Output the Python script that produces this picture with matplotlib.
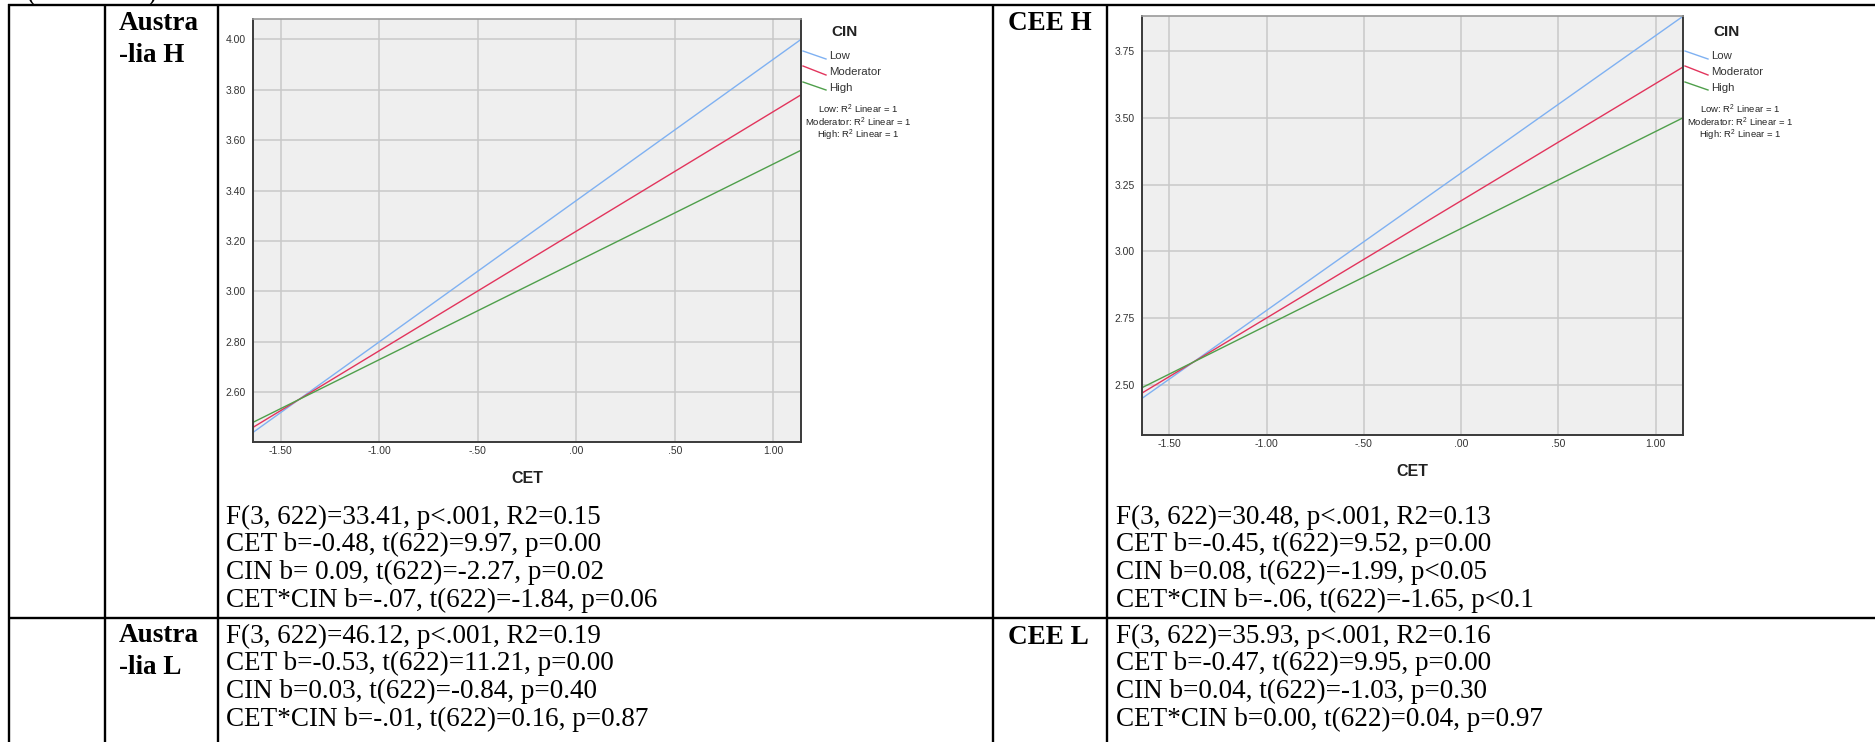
import matplotlib
matplotlib.use('Agg')
import matplotlib.pyplot as plt
from matplotlib.lines import Line2D

plt.rcParams['mathtext.fontset'] = 'custom'
plt.rcParams['mathtext.rm'] = 'Liberation Sans'
plt.rcParams['mathtext.it'] = 'Liberation Sans:italic'

W, H = 1875, 742

# ---------------- data ----------------
cet_range = [-1.64, 1.14]

aus_h_low = [2.44, 4.00]
aus_h_mod = [2.46, 3.78]
aus_h_high = [2.48, 3.56]

cee_h_low = [2.45, 3.88]
cee_h_mod = [2.47, 3.69]
cee_h_high = [2.49, 3.50]

group_labels = ["Low", "Moderator", "High"]
group_colors = ["#7fb1f2", "#e2345c", "#4f9f4b"]
r2_labels = ["Low: R$^2$ Linear = 1", "Moderator: R$^2$ Linear = 1", "High: R$^2$ Linear = 1"]

x_ticks = [-1.5, -1.0, -0.5, 0.0, 0.5, 1.0]
x_ticklabels = ["-1.50", "-1.00", "-.50", ".00", ".50", "1.00"]
aus_h_yticks = [2.60, 2.80, 3.00, 3.20, 3.40, 3.60, 3.80, 4.00]
aus_h_yticklabels = ["2.60", "2.80", "3.00", "3.20", "3.40", "3.60", "3.80", "4.00"]
cee_h_yticks = [2.50, 2.75, 3.00, 3.25, 3.50, 3.75]
cee_h_yticklabels = ["2.50", "2.75", "3.00", "3.25", "3.50", "3.75"]

row_labels = [["Austra", "-lia H"], ["CEE H"], ["Austra", "-lia L"], ["CEE L"]]

aus_h_stats = ["F(3, 622)=33.41, p<.001, R2=0.15",
               "CET b=-0.48, t(622)=9.97, p=0.00",
               "CIN b= 0.09, t(622)=-2.27, p=0.02",
               "CET*CIN b=-.07, t(622)=-1.84, p=0.06"]
cee_h_stats = ["F(3, 622)=30.48, p<.001, R2=0.13",
               "CET b=-0.45, t(622)=9.52, p=0.00",
               "CIN b=0.08, t(622)=-1.99, p<0.05",
               "CET*CIN b=-.06, t(622)=-1.65, p<0.1"]
aus_l_stats = ["F(3, 622)=46.12, p<.001, R2=0.19",
               "CET b=-0.53, t(622)=11.21, p=0.00",
               "CIN b=0.03, t(622)=-0.84, p=0.40",
               "CET*CIN b=-.01, t(622)=0.16, p=0.87"]
cee_l_stats = ["F(3, 622)=35.93, p<.001, R2=0.16",
               "CET b=-0.47, t(622)=9.95, p=0.00",
               "CIN b=0.04, t(622)=-1.03, p=0.30",
               "CET*CIN b=0.00, t(622)=0.04, p=0.97"]

# ---------------- figure ----------------
fig = plt.figure(figsize=(W / 100, H / 100), dpi=100)
fig.patch.set_facecolor('white')


def fx(x):
    return x / W


def fy(y):
    return 1 - y / H


def hline(y, x0, x1, lw=1.7, color='black'):
    fig.add_artist(Line2D([fx(x0), fx(x1)], [fy(y), fy(y)], transform=fig.transFigure,
                          color=color, lw=lw, solid_capstyle='butt'))


def vline(x, y0, y1, lw=1.7, color='black'):
    fig.add_artist(Line2D([fx(x), fx(x)], [fy(y0), fy(y1)], transform=fig.transFigure,
                          color=color, lw=lw, solid_capstyle='butt'))


# table grid
hline(5, 8, W)
hline(618, 8, W)
for xv in [9, 105, 218, 993, 1107]:
    vline(xv, 4, H)

serif = 'Liberation Serif'
TFS = 19.5

# partially cut-off caption above the table (only its lower edge shows)
fig.text(fx(27), fy(0.5), "(Continued)", family=serif, fontsize=TFS,
         ha='left', va='baseline', color='black')


# row labels
def label(lines, x, y0, dy=32):
    for i, s in enumerate(lines):
        fig.text(fx(x), fy(y0 + i * dy), s, family=serif, fontsize=TFS, weight='bold',
                 ha='left', va='center')


label(row_labels[0], 119, 23)
label(row_labels[1], 1008, 23)
label(row_labels[2], 119, 636)
label(row_labels[3], 1008, 638)


# stats text
def stats(lines, x, y0, dy=27.8):
    for i, s in enumerate(lines):
        fig.text(fx(x), fy(y0 + i * dy), s, family=serif, fontsize=TFS,
                 ha='left', va='center')


stats(aus_h_stats, 226, 517)
stats(cee_h_stats, 1116, 517)
stats(aus_l_stats, 226, 636)
stats(cee_l_stats, 1116, 636)


# ---------------- charts ----------------
def chart(box, xlim, ylim, yticks, yticklabels, low, mod, high):
    left, top, right, bottom = box
    ax = fig.add_axes([fx(left), fy(bottom), (right - left) / W, (bottom - top) / H])
    ax.set_facecolor('#efefef')
    ax.set_xlim(*xlim)
    ax.set_ylim(*ylim)
    ax.set_xticks(x_ticks)
    ax.set_xticklabels(x_ticklabels)
    ax.set_yticks(yticks)
    ax.set_yticklabels(yticklabels)
    ax.grid(True, color='#c9c9c9', lw=1.1)
    ax.set_axisbelow(True)
    ax.tick_params(length=0, labelsize=7.5, labelcolor='#333333', pad=5)
    ax.tick_params(axis='x', pad=3)
    for lab in ax.get_xticklabels() + ax.get_yticklabels():
        lab.set_family('Liberation Sans')
    for side in ['left', 'bottom', 'right']:
        ax.spines[side].set_color('#3a3a3a')
        ax.spines[side].set_linewidth(1.4)
    ax.spines['top'].set_color('#9a9a9a')
    ax.spines['top'].set_linewidth(1.2)
    for ys, c in zip([low, mod, high], group_colors):
        ax.plot(cet_range, ys, color=c, lw=1.0)
    ax.set_xlabel("CET", family='Liberation Sans', fontsize=11.5, weight='bold',
                  labelpad=11, color='#222222')

    # legend (SPSS style, diagonal keys)
    fig.text(fx(right + 43), fy(32), "CIN", family='Liberation Sans', fontsize=11,
             weight='bold', ha='center', va='center', color='#222222')
    key_y = [(51, 59), (66, 75), (82, 90)]
    txt_y = [56, 72, 88]
    for (ya, yb), ty, c, s in zip(key_y, txt_y, group_colors, group_labels):
        fig.add_artist(Line2D([fx(right + 2), fx(right + 25)], [fy(ya), fy(yb)],
                              transform=fig.transFigure, color=c, lw=1.0))
        fig.text(fx(right + 28), fy(ty), s, family='Liberation Sans', fontsize=8.2,
                 ha='left', va='center', color='#333333')
    for ty, s in zip([109, 122, 135], r2_labels):
        fig.text(fx(right + 57), fy(ty), s, family='Liberation Sans', fontsize=6.8,
                 ha='center', va='center', color='#222222')
    return ax


chart((253, 19, 801, 442), cet_range, (2.402, 4.081), aus_h_yticks, aus_h_yticklabels,
      aus_h_low, aus_h_mod, aus_h_high)
chart((1142, 16, 1683, 435), cet_range, (2.313, 3.881), cee_h_yticks, cee_h_yticklabels,
      cee_h_low, cee_h_mod, cee_h_high)

fig.savefig('out.png', dpi=100, facecolor='white')
